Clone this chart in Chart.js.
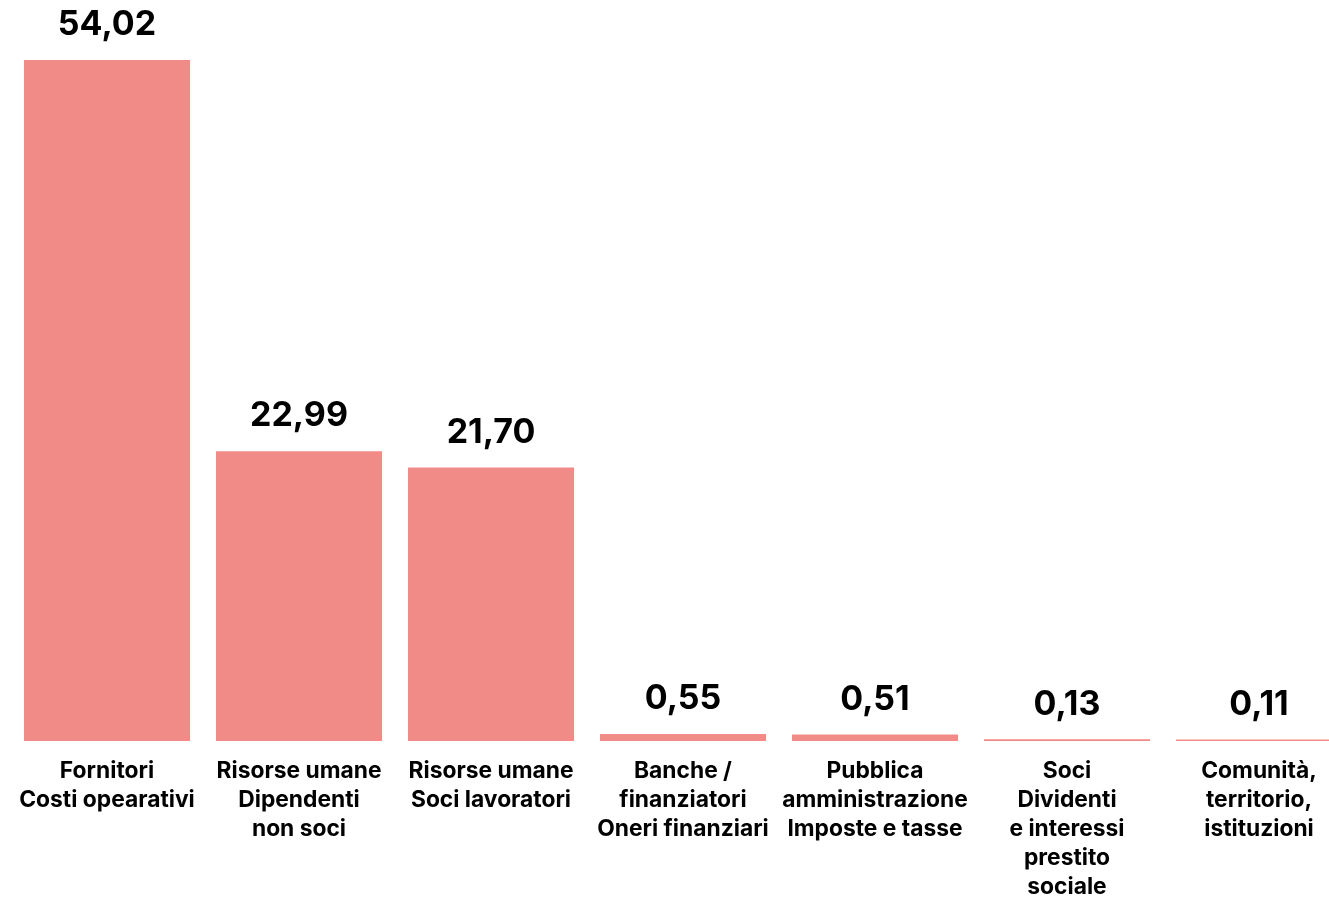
<!DOCTYPE html>
<html>
<head>
<meta charset="utf-8">
<script src="https://cdn.jsdelivr.net/npm/chart.js@4"></script>
<style>
  html, body { margin: 0; padding: 0; background: #fff; overflow: hidden; }
</style>
</head>
<body>
<canvas id="valueChart" width="1360" height="922"></canvas>
<script>
  const categories = [
    ["Fornitori", "Costi opearativi"],
    ["Risorse umane", "Dipendenti", "non soci"],
    ["Risorse umane", "Soci lavoratori"],
    ["Banche /", "finanziatori", "Oneri finanziari"],
    ["Pubblica", "amministrazione", "Imposte e tasse"],
    ["Soci", "Dividenti", "e interessi", "prestito", "sociale"],
    ["Comunità,", "territorio,", "istituzioni"]
  ];
  const values = [54.02, 22.99, 21.70, 0.55, 0.51, 0.13, 0.11];
  const valueLabels = ["54,02", "22,99", "21,70", "0,55", "0,51", "0,13", "0,11"];

  const barColor = "rgb(240, 139, 135)";

  // writes the value above each bar
  const valueLabelPlugin = {
    id: "valueLabels",
    afterDatasetsDraw(chart) {
      const ctx = chart.ctx;
      const meta = chart.getDatasetMeta(0);
      ctx.save();
      ctx.font = "bold 34px Inter, 'DejaVu Sans', sans-serif";
      ctx.fillStyle = "#000";
      ctx.textAlign = "center";
      ctx.textBaseline = "middle";
      meta.data.forEach((bar, i) => {
        ctx.fillText(valueLabels[i], bar.x, bar.y - 35);
      });
      ctx.restore();
    }
  };

  const ctx = document.getElementById("valueChart").getContext("2d");
  new Chart(ctx, {
    type: "bar",
    data: {
      labels: categories,
      datasets: [{
        data: values,
        backgroundColor: barColor,
        borderWidth: 0,
        barPercentage: 0.865,
        categoryPercentage: 1
      }]
    },
    options: {
      responsive: false,
      animation: false,
      layout: { padding: { left: 11, right: 5, top: 60, bottom: 4 } },
      scales: {
        x: {
          grid: { display: false, drawTicks: false },
          border: { display: false },
          ticks: {
            color: "#000",
            padding: 16,
            maxRotation: 0,
            autoSkip: false,
            font: { family: "Inter, 'DejaVu Sans', sans-serif", size: 22.8, weight: "bold", lineHeight: "29px" }
          }
        },
        y: {
          display: false,
          min: 0,
          max: 54.02
        }
      },
      plugins: {
        legend: { display: false },
        tooltip: { enabled: false }
      }
    },
    plugins: [valueLabelPlugin]
  });
</script>
</body>
</html>
